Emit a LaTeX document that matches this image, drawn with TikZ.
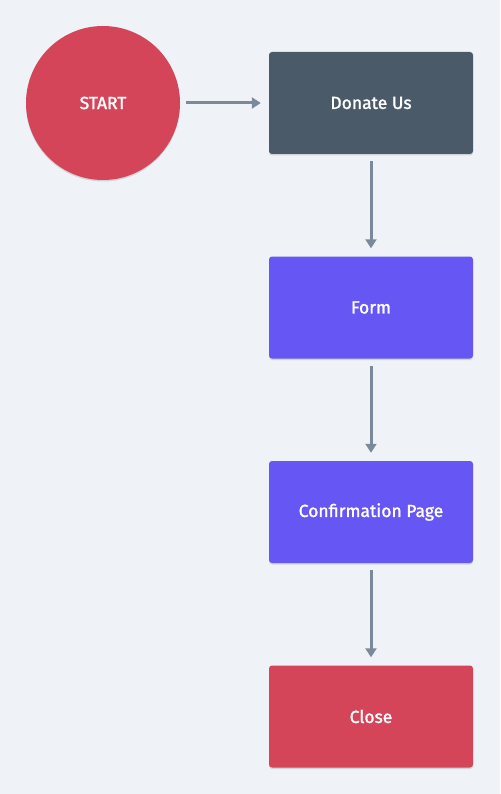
\documentclass[tikz,border=0pt]{standalone}
\usepackage{fontspec}
\setmainfont{Fira Sans}
\newfontfamily\medfont{Fira Sans}[FakeBold=1.5]
\usetikzlibrary{arrows.meta,shadows}
\definecolor{bg}{HTML}{EFF3F7}
\definecolor{redc}{HTML}{D4455A}
\definecolor{darkc}{HTML}{4A5A68}
\definecolor{purplec}{HTML}{6657F5}
\definecolor{arrowc}{HTML}{7A8A9A}
\tikzset{
  x=1pt,y=-1pt,
  shad/.style={drop shadow={shadow xshift=0pt,shadow yshift=-1.5pt,opacity=0.12,fill=black}},
  boxnode/.style={shad,rectangle,rounded corners=3pt,minimum width=204pt,minimum height=102pt,text=white,font=\medfont\fontsize{17.5}{20}\selectfont,inner sep=0pt},
  circnode/.style={shad,circle,minimum size=154pt,fill=redc,text=white,font=\medfont\fontsize{17.5}{20}\selectfont,inner sep=0pt},
  conn/.style={draw=arrowc,line width=3pt,-{Triangle[length=9pt,width=11pt]}}
}
\begin{document}
\begin{tikzpicture}
\fill[bg] (0,0) rectangle (500,794);
\useasboundingbox (0,0) rectangle (500,794);
\node[circnode] (start) at (103,103) {START};
\node[boxnode,fill=darkc] (donate) at (371,103) {Donate Us};
\node[boxnode,fill=purplec] (form) at (371,307.5) {Form};
\node[boxnode,fill=purplec] (confirm) at (371,512) {Confirmation Page};
\node[boxnode,fill=redc] (close) at (371,716.5) {Close};
\draw[conn] ([xshift=6pt]start.east) -- ([xshift=-8pt]donate.west);
\draw[conn] ([yshift=-7pt]donate.south) -- ([yshift=8pt]form.north);
\draw[conn] ([yshift=-7pt]form.south) -- ([yshift=8pt]confirm.north);
\draw[conn] ([yshift=-7pt]confirm.south) -- ([yshift=8pt]close.north);
\end{tikzpicture}
\end{document}
